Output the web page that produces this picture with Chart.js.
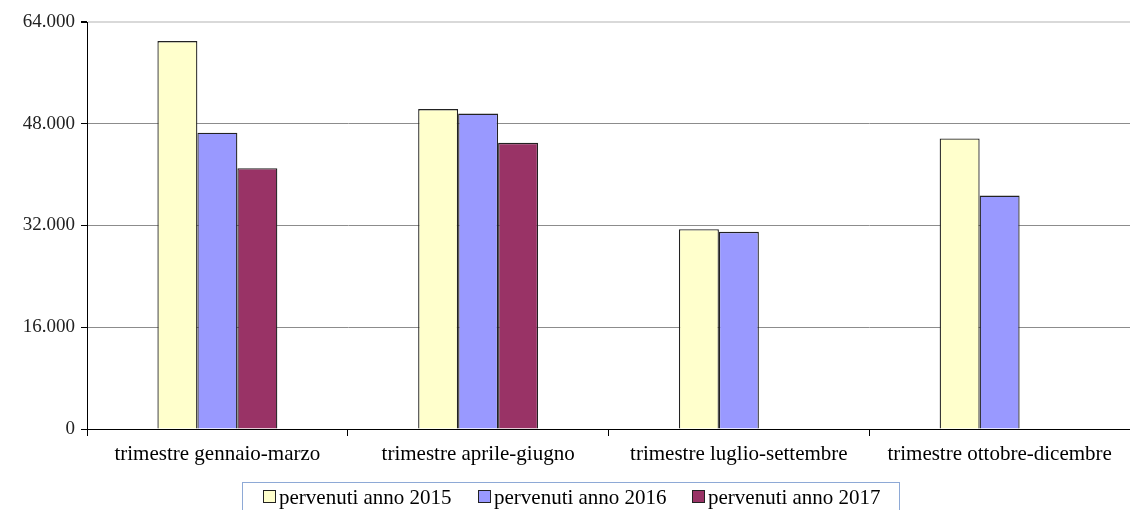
<!DOCTYPE html>
<html><head><meta charset="utf-8">
<script src="https://cdn.jsdelivr.net/npm/chart.js@4.4.1/dist/chart.umd.min.js"></script>
<style>html,body{margin:0;padding:0;background:#fff;}#wrap{width:1130px;height:510px;position:relative;}</style>
</head><body><div id="wrap"><canvas id="c" width="1130" height="510"></canvas></div>
<script>
const categories = ["trimestre gennaio-marzo", "trimestre aprile-giugno", "trimestre luglio-settembre", "trimestre ottobre-dicembre"];
const seriesLabels = ["pervenuti anno 2015", "pervenuti anno 2016", "pervenuti anno 2017"];
const values2015 = [61000, 50300, 31400, 45700];
const values2016 = [46600, 49600, 31000, 36700];
const values2017 = [41000, 45000, null, null];
const yTicks = [0, 16000, 32000, 48000, 64000];
const colors = ["#FFFFCC", "#9999FF", "#993366"];

const FONT = "'Liberation Serif', serif";
function fmt(v){ return String(v).replace(/\B(?=(\d{3})+(?!\d))/g, "."); }

const legendPlugin = {
  id: 'customLegend',
  afterDraw(chart){
    const ctx = chart.ctx;
    ctx.save();
    ctx.strokeStyle = '#8EA9D6';
    ctx.lineWidth = 1;
    ctx.strokeRect(242.5, 482.5, 657, 40);
    ctx.font = "21px " + FONT;
    ctx.textBaseline = 'alphabetic';
    const starts = [263, 478, 692];
    chart.data.datasets.forEach((ds, i) => {
      const x = starts[i];
      ctx.fillStyle = ds.backgroundColor;
      ctx.fillRect(x, 490, 12, 13);
      ctx.strokeStyle = '#222';
      ctx.strokeRect(x + 0.5, 490.5, 12, 12);
      ctx.fillStyle = '#000';
      ctx.fillText(ds.label, x + 16, 504);
    });
    ctx.restore();
  }
};

new Chart(document.getElementById('c'), {
  type: 'bar',
  data: {
    labels: categories,
    datasets: [
      {label: seriesLabels[0], data: values2015, backgroundColor: colors[0]},
      {label: seriesLabels[1], data: values2016, backgroundColor: colors[1]},
      {label: seriesLabels[2], data: values2017, backgroundColor: colors[2]}
    ].map(d => Object.assign(d, {borderColor: '#222', borderWidth: 1.3, categoryPercentage: 0.46, barPercentage: 1.0}))
  },
  options: {
    responsive: false,
    animation: false,
    layout: {padding: {top: 22, right: 0, left: 0, bottom: 0}},
    plugins: {legend: {display: false}, tooltip: {enabled: false}},
    scales: {
      x: {
        grid: {display: true, drawOnChartArea: false, offset: true, tickLength: 7, color: '#000'},
        border: {display: true, color: '#000', width: 1},
        ticks: {font: {family: FONT, size: 21}, color: '#000', padding: 6, maxRotation: 0, autoSkip: false},
        afterFit(s){ s.height = 81; }
      },
      y: {
        min: 0, max: 64000,
        afterBuildTicks(s){ s.ticks = yTicks.map(v => ({value: v})); },
        grid: {
          color: ctx => (ctx.tick && ctx.tick.value === 64000) ? '#d9d9d9' : '#8c8c8c',
          lineWidth: ctx => (ctx.tick && ctx.tick.value === 64000) ? 2 : 1,
          tickLength: 6, tickColor: '#000', drawTicks: true
        },
        border: {display: true, color: '#000', width: 1},
        ticks: {font: {family: FONT, size: 19}, color: '#222', padding: 6, callback: v => fmt(v)},
        afterFit(s){ s.width = 87; }
      }
    }
  },
  plugins: [legendPlugin]
});
</script></body></html>
